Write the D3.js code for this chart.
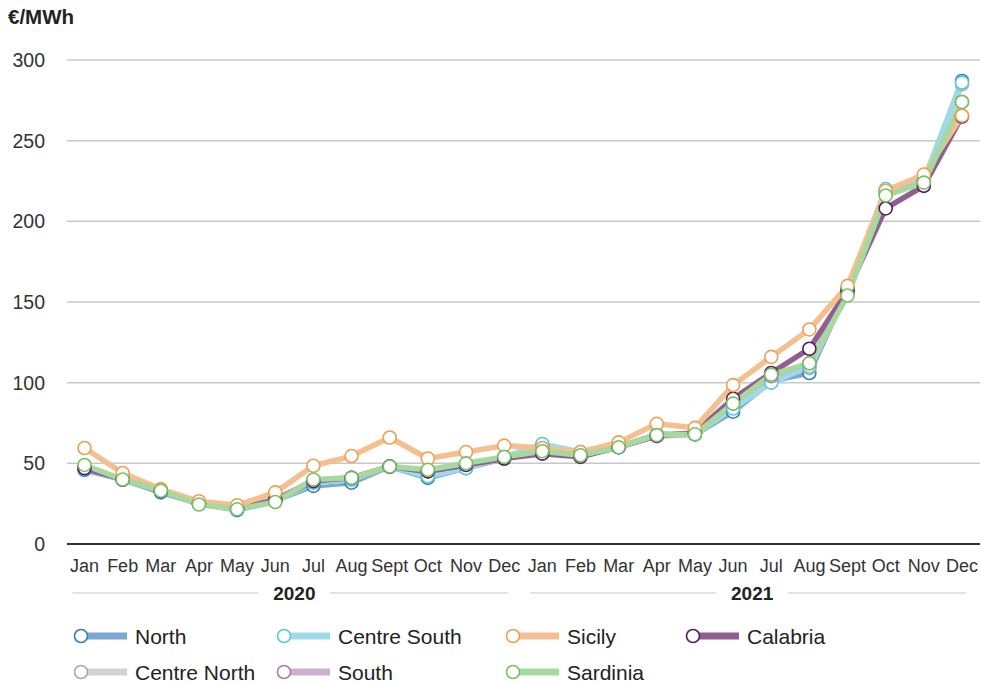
<!DOCTYPE html>
<html><head><meta charset="utf-8">
<script src="https://cdn.jsdelivr.net/npm/d3@7"></script>
<style>body{margin:0;background:#fff;}svg{display:block;font-family:"Liberation Sans",Arial,sans-serif;}</style>
</head><body>
<svg id="c" width="981" height="682"></svg>
<script>
const months = ["Jan","Feb","Mar","Apr","May","Jun","Jul","Aug","Sept","Oct","Nov","Dec","Jan","Feb","Mar","Apr","May","Jun","Jul","Aug","Sept","Oct","Nov","Dec"];
const years = ["2020","2021"];
const yTicks = [0,50,100,150,200,250,300];

const north       = [46,40,32,25,21,27,36,38,48,41,47,53,61,56,60,68,68,82,101,106,158,219,225,287];
const centreNorth = [47,40,33,25,22,27,38,40,48,44,48,53,59,56,60,67,68,85,103,109,157,218,224,285];
const centreSouth = [47,40,33,25,22,27,38,40,48,42,47,54,62,57,60,68,68,84,100,110,158,220,226,286];
const south       = [47,40,33,25,22,28,39,41,48,45,49,53,58,55,60,67,68,87,104,112,156,217,224,274];
const calabria    = [47,40,33,25,22,27,39,41,48,45,49,53,56,54,60,67,69,90,106,121,157,208,222,265];
const sicily      = [59.5,44,34,26.5,24,32,48.5,54.5,66,53,57,61,59.5,57,63,74.5,72,98.5,116,133,160,219,229,265.5];
const sardinia    = [49,40,33,24.5,21.5,26,40,41,48,46,50,54,57.5,55,60,67.5,68,87,105,112,154,216,224,274];

const seriesNames = ["North","Centre North","Centre South","South","Calabria","Sicily","Sardinia"];
const seriesData = [north, centreNorth, centreSouth, south, calabria, sicily, sardinia];
const lineColors = ["#7aaad4","#d3d3d3","#9ddbe9","#cdafcf","#8e5f90","#f4c08f","#a6d99d"];
const markColors = ["#2f7fbf","#a8a8a8","#5cc6df","#a97cab","#5a1a5c","#ef9f52","#78c064"];

const svg = d3.select("#c");
const x = d3.scalePoint().domain(d3.range(24)).range([84.5, 962]);
const y = d3.scaleLinear().domain([0,300]).range([544, 60]);

// grid
svg.append("g").selectAll("line").data(yTicks.filter(d=>d>0)).join("line")
  .attr("x1",67).attr("x2",980).attr("y1",d=>y(d)).attr("y2",d=>y(d))
  .attr("stroke","#c8c8c8").attr("stroke-width",1.5);
svg.append("line").attr("x1",67).attr("x2",980).attr("y1",y(0)).attr("y2",y(0))
  .attr("stroke","#333").attr("stroke-width",2);

// y labels
svg.append("g").selectAll("text").data(yTicks).join("text")
  .attr("x",45).attr("y",d=>y(d)+7).attr("text-anchor","end")
  .attr("font-size",19.5).attr("fill","#333").text(d=>d);
svg.append("text").attr("x",8).attr("y",24).attr("font-size",20.5).attr("font-weight","bold").attr("fill","#222").text("€/MWh");

// x labels
svg.append("g").selectAll("text").data(months).join("text")
  .attr("x",(d,i)=>x(i)).attr("y",572).attr("text-anchor","middle")
  .attr("font-size",18).attr("fill","#333").text(d=>d);

// year labels
const yearSpans = [[0,11],[12,23]];
years.forEach((yr,k)=>{
  const a = x(yearSpans[k][0]) - 12, b = x(yearSpans[k][1]) + 4;
  const mid = (x(yearSpans[k][0]) + x(yearSpans[k][1]))/2;
  svg.append("text").attr("x",mid).attr("y",600).attr("text-anchor","middle")
    .attr("font-size",19).attr("font-weight","bold").attr("fill","#222").text(yr);
  svg.append("line").attr("x1",a).attr("x2",mid-36).attr("y1",593).attr("y2",593).attr("stroke","#c8c8c8").attr("stroke-width",1.2);
  svg.append("line").attr("x1",mid+36).attr("x2",b).attr("y1",593).attr("y2",593).attr("stroke","#c8c8c8").attr("stroke-width",1.2);
});

// lines
const line = d3.line().x((d,i)=>x(i)).y(d=>y(d));
seriesData.forEach((s,k)=>{
  svg.append("path").datum(s).attr("d",line).attr("fill","none")
    .attr("stroke",lineColors[k]).attr("stroke-width",5.5).attr("stroke-linejoin","round");
});
seriesData.forEach((s,k)=>{
  svg.append("g").selectAll("circle").data(s).join("circle")
    .attr("cx",(d,i)=>x(i)).attr("cy",d=>y(d)).attr("r",6.5)
    .attr("fill","#fff").attr("stroke",markColors[k]).attr("stroke-width",1.6);
});

// legend
const legendItems = [
  {n:"North",k:0,x:81,y:636},{n:"Centre South",k:2,x:284,y:636},{n:"Sicily",k:5,x:513,y:636},{n:"Calabria",k:4,x:693,y:636},
  {n:"Centre North",k:1,x:81,y:672},{n:"South",k:3,x:284,y:672},{n:"Sardinia",k:6,x:513,y:672}
];
const lg = svg.append("g").selectAll("g").data(legendItems).join("g").attr("transform",d=>`translate(${d.x},${d.y})`);
lg.append("rect").attr("x",0).attr("y",-3.5).attr("width",46).attr("height",7).attr("fill",d=>lineColors[d.k]);
lg.append("circle").attr("r",6.5).attr("fill","#fff").attr("stroke",d=>markColors[d.k]).attr("stroke-width",1.6);
lg.append("text").attr("x",54).attr("y",7.5).attr("font-size",21).attr("fill","#222").text(d=>d.n);
</script>
</body></html>
